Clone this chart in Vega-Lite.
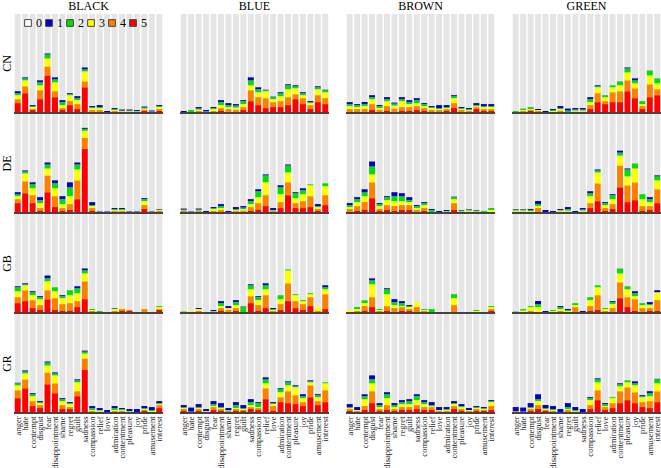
{
"$schema": "https://vega.github.io/schema/vega-lite/v6.json",
"padding": {"left": 0, "top": 0, "right": 0, "bottom": 0},
"background": "white",
"config": {"view": {"stroke": null}, "font": "Liberation Serif"},
"data": {"values": [
{"c":"BLACK","r":"CN","e":"anger","5":10,"4":4,"3":4,"2":2,"1":2},
{"c":"BLACK","r":"CN","e":"hate","5":20,"4":7,"3":6,"2":2,"1":1},
{"c":"BLACK","r":"CN","e":"contempt","5":3,"4":1,"3":2,"2":1,"1":1},
{"c":"BLACK","r":"CN","e":"disgust","5":14,"4":9,"3":5,"2":3,"1":2},
{"c":"BLACK","r":"CN","e":"fear","5":38,"4":9,"3":8,"2":4,"1":1},
{"c":"BLACK","r":"CN","e":"disappointment","5":16,"4":6,"3":9,"2":3,"1":2},
{"c":"BLACK","r":"CN","e":"shame","5":3,"4":2,"3":3,"2":3,"1":2},
{"c":"BLACK","r":"CN","e":"regret","5":8,"4":4,"3":6,"2":1,"1":1},
{"c":"BLACK","r":"CN","e":"guilt","5":4,"4":5,"3":4,"2":2,"1":2},
{"c":"BLACK","r":"CN","e":"sadness","5":26,"4":6,"3":10,"2":2,"1":2},
{"c":"BLACK","r":"CN","e":"compassion","5":1,"4":2,"3":2,"2":1,"1":1},
{"c":"BLACK","r":"CN","e":"relief","5":1,"4":2,"3":2,"2":1,"1":2},
{"c":"BLACK","r":"CN","e":"love","5":0.5,"4":0.5,"3":0,"2":0,"1":1},
{"c":"BLACK","r":"CN","e":"admiration","5":1,"4":1,"3":1,"2":1,"1":1},
{"c":"BLACK","r":"CN","e":"contentment","5":0.5,"4":1,"3":0.5,"2":0.5,"1":1},
{"c":"BLACK","r":"CN","e":"pleasure","5":0.5,"4":1,"3":0.5,"2":0.5,"1":1},
{"c":"BLACK","r":"CN","e":"joy","5":0.5,"4":0.5,"3":0.5,"2":0.5,"1":1},
{"c":"BLACK","r":"CN","e":"pride","5":2,"4":1.5,"3":1,"2":1,"1":1},
{"c":"BLACK","r":"CN","e":"amusement","5":0.5,"4":0.5,"3":0.5,"2":0,"1":1},
{"c":"BLACK","r":"CN","e":"interest","5":2,"4":2,"3":2,"2":1,"1":1},
{"c":"BLUE","r":"CN","e":"anger","5":0,"4":0,"3":0,"2":1,"1":1},
{"c":"BLUE","r":"CN","e":"hate","5":0,"4":0,"3":1,"2":2,"1":0},
{"c":"BLUE","r":"CN","e":"contempt","5":1,"4":1,"3":1.5,"2":1,"1":1.5},
{"c":"BLUE","r":"CN","e":"disgust","5":0,"4":1,"3":0.5,"2":0,"1":1.5},
{"c":"BLUE","r":"CN","e":"fear","5":1,"4":1,"3":2,"2":1,"1":1},
{"c":"BLUE","r":"CN","e":"disappointment","5":2,"4":3,"3":3,"2":3,"1":2},
{"c":"BLUE","r":"CN","e":"shame","5":1.5,"4":2.5,"3":2,"2":2,"1":2},
{"c":"BLUE","r":"CN","e":"regret","5":1.5,"4":2,"3":2,"2":2,"1":1.5},
{"c":"BLUE","r":"CN","e":"guilt","5":3,"4":3,"3":3,"2":3,"1":1},
{"c":"BLUE","r":"CN","e":"sadness","5":12,"4":11,"3":5,"2":5,"1":3},
{"c":"BLUE","r":"CN","e":"compassion","5":8,"4":8,"3":5,"2":3,"1":2},
{"c":"BLUE","r":"CN","e":"relief","5":5,"4":10,"3":7,"2":1,"1":0.5},
{"c":"BLUE","r":"CN","e":"love","5":6,"4":5,"3":3,"2":2,"1":0.5},
{"c":"BLUE","r":"CN","e":"admiration","5":6,"4":6,"3":5,"2":3,"1":1},
{"c":"BLUE","r":"CN","e":"contentment","5":8,"4":8,"3":8,"2":4,"1":1},
{"c":"BLUE","r":"CN","e":"pleasure","5":14,"4":5,"3":6,"2":2,"1":1},
{"c":"BLUE","r":"CN","e":"joy","5":9,"4":6,"3":3,"2":2,"1":1},
{"c":"BLUE","r":"CN","e":"pride","5":4,"4":4,"3":2,"2":1,"1":1},
{"c":"BLUE","r":"CN","e":"amusement","5":11,"4":7,"3":6,"2":2,"1":1},
{"c":"BLUE","r":"CN","e":"interest","5":9,"4":6,"3":6,"2":2,"1":0.5},
{"c":"BROWN","r":"CN","e":"anger","5":1,"4":3,"3":3,"2":2,"1":2},
{"c":"BROWN","r":"CN","e":"hate","5":1,"4":3,"3":2,"2":2,"1":1},
{"c":"BROWN","r":"CN","e":"contempt","5":1,"4":3,"3":3,"2":2,"1":2},
{"c":"BROWN","r":"CN","e":"disgust","5":3,"4":6,"3":5,"2":2,"1":2},
{"c":"BROWN","r":"CN","e":"fear","5":1,"4":2,"3":2,"2":2,"1":1},
{"c":"BROWN","r":"CN","e":"disappointment","5":2,"4":5,"3":5,"2":2,"1":2},
{"c":"BROWN","r":"CN","e":"shame","5":1.5,"4":3,"3":3,"2":2,"1":1},
{"c":"BROWN","r":"CN","e":"regret","5":2,"4":4,"3":6,"2":2,"1":2},
{"c":"BROWN","r":"CN","e":"guilt","5":2,"4":4,"3":3,"2":2,"1":2},
{"c":"BROWN","r":"CN","e":"sadness","5":3,"4":4,"3":3,"2":3,"1":2},
{"c":"BROWN","r":"CN","e":"compassion","5":2,"4":3,"3":2,"2":2,"1":1},
{"c":"BROWN","r":"CN","e":"relief","5":1,"4":2,"3":2,"2":1,"1":1},
{"c":"BROWN","r":"CN","e":"love","5":1,"4":2,"3":1,"2":1,"1":3},
{"c":"BROWN","r":"CN","e":"admiration","5":2,"4":2,"3":1,"2":1,"1":2},
{"c":"BROWN","r":"CN","e":"contentment","5":5,"4":5,"3":5,"2":2,"1":1},
{"c":"BROWN","r":"CN","e":"pleasure","5":1,"4":2,"3":1,"2":1,"1":1},
{"c":"BROWN","r":"CN","e":"joy","5":1,"4":1,"3":1,"2":1,"1":1},
{"c":"BROWN","r":"CN","e":"pride","5":4,"4":2,"3":1,"2":1,"1":2},
{"c":"BROWN","r":"CN","e":"amusement","5":2,"4":2,"3":2,"2":1,"1":2},
{"c":"BROWN","r":"CN","e":"interest","5":2,"4":2,"3":2,"2":1,"1":2},
{"c":"GREEN","r":"CN","e":"anger","5":0,"4":0,"3":0,"2":2,"1":0},
{"c":"GREEN","r":"CN","e":"hate","5":1,"4":1,"3":1,"2":1.5,"1":0},
{"c":"GREEN","r":"CN","e":"contempt","5":2,"4":1,"3":1,"2":2,"1":0},
{"c":"GREEN","r":"CN","e":"disgust","5":0,"4":2,"3":1,"2":0,"1":1},
{"c":"GREEN","r":"CN","e":"fear","5":0,"4":0,"3":0.5,"2":0.5,"1":1},
{"c":"GREEN","r":"CN","e":"disappointment","5":0,"4":1,"3":1,"2":1,"1":1},
{"c":"GREEN","r":"CN","e":"shame","5":1,"4":1.5,"3":1.5,"2":1,"1":2},
{"c":"GREEN","r":"CN","e":"regret","5":0,"4":0.5,"3":0.5,"2":1.5,"1":2},
{"c":"GREEN","r":"CN","e":"guilt","5":0.5,"4":1,"3":1,"2":1,"1":1.5},
{"c":"GREEN","r":"CN","e":"sadness","5":0.5,"4":1,"3":1,"2":1,"1":1.5},
{"c":"GREEN","r":"CN","e":"compassion","5":4,"4":4,"3":3,"2":3,"1":2},
{"c":"GREEN","r":"CN","e":"relief","5":11,"4":9,"3":6,"2":1,"1":1},
{"c":"GREEN","r":"CN","e":"love","5":9,"4":3,"3":4,"2":2,"1":0},
{"c":"GREEN","r":"CN","e":"admiration","5":11,"4":10,"3":5,"2":2,"1":0},
{"c":"GREEN","r":"CN","e":"contentment","5":11,"4":11,"3":6,"2":4,"1":0},
{"c":"GREEN","r":"CN","e":"pleasure","5":22,"4":11,"3":8,"2":4,"1":1},
{"c":"GREEN","r":"CN","e":"joy","5":15,"4":10,"3":5,"2":3,"1":2},
{"c":"GREEN","r":"CN","e":"pride","5":4,"4":3,"3":2,"2":3,"1":0},
{"c":"GREEN","r":"CN","e":"amusement","5":16,"4":13,"3":9,"2":5,"1":0},
{"c":"GREEN","r":"CN","e":"interest","5":18,"4":6,"3":6,"2":5,"1":0},
{"c":"BLACK","r":"DE","e":"anger","5":10,"4":4,"3":3,"2":2,"1":2},
{"c":"BLACK","r":"DE","e":"hate","5":20,"4":12,"3":8,"2":2,"1":1},
{"c":"BLACK","r":"DE","e":"contempt","5":10,"4":8,"3":7,"2":4,"1":2},
{"c":"BLACK","r":"DE","e":"disgust","5":2,"4":3,"3":5,"2":3,"1":3},
{"c":"BLACK","r":"DE","e":"fear","5":21,"4":17,"3":7,"2":4,"1":2},
{"c":"BLACK","r":"DE","e":"disappointment","5":6,"4":11,"3":8,"2":5,"1":3},
{"c":"BLACK","r":"DE","e":"shame","5":2,"4":3,"3":4,"2":5,"1":3},
{"c":"BLACK","r":"DE","e":"regret","5":3,"4":6,"3":8,"2":9,"1":5},
{"c":"BLACK","r":"DE","e":"guilt","5":14,"4":19,"3":11,"2":5,"1":2},
{"c":"BLACK","r":"DE","e":"sadness","5":65,"4":11,"3":7,"2":2,"1":1},
{"c":"BLACK","r":"DE","e":"compassion","5":2,"4":3,"3":2,"2":1,"1":3},
{"c":"BLACK","r":"DE","e":"relief","5":0,"4":0.5,"3":0.5,"2":0,"1":0.5},
{"c":"BLACK","r":"DE","e":"love","5":0,"4":0,"3":0,"2":0,"1":1.5},
{"c":"BLACK","r":"DE","e":"admiration","5":1,"4":1,"3":1,"2":1,"1":1},
{"c":"BLACK","r":"DE","e":"contentment","5":1,"4":1,"3":1,"2":1,"1":1},
{"c":"BLACK","r":"DE","e":"pleasure","5":0.5,"4":0.5,"3":0.5,"2":0,"1":0.5},
{"c":"BLACK","r":"DE","e":"joy","5":0.5,"4":0.5,"3":0.5,"2":0,"1":0.5},
{"c":"BLACK","r":"DE","e":"pride","5":4,"4":4,"3":4,"2":2,"1":1},
{"c":"BLACK","r":"DE","e":"amusement","5":0.5,"4":0.5,"3":0.5,"2":0,"1":0.5},
{"c":"BLACK","r":"DE","e":"interest","5":1,"4":1,"3":1,"2":0.5,"1":0.5},
{"c":"BLUE","r":"DE","e":"anger","5":1,"4":1,"3":0.5,"2":1,"1":1},
{"c":"BLUE","r":"DE","e":"hate","5":0,"4":0,"3":0,"2":0.5,"1":1},
{"c":"BLUE","r":"DE","e":"contempt","5":1,"4":1,"3":0.5,"2":1,"1":1},
{"c":"BLUE","r":"DE","e":"disgust","5":0.5,"4":0,"3":0,"2":0.5,"1":1},
{"c":"BLUE","r":"DE","e":"fear","5":1,"4":1,"3":2,"2":1,"1":1},
{"c":"BLUE","r":"DE","e":"disappointment","5":1,"4":2,"3":2,"2":2,"1":2},
{"c":"BLUE","r":"DE","e":"shame","5":0.5,"4":0.5,"3":0,"2":0,"1":1},
{"c":"BLUE","r":"DE","e":"regret","5":1,"4":1,"3":1,"2":1,"1":2},
{"c":"BLUE","r":"DE","e":"guilt","5":1,"4":1.5,"3":1.5,"2":1.5,"1":1.5},
{"c":"BLUE","r":"DE","e":"sadness","5":2,"4":4,"3":3,"2":3,"1":2},
{"c":"BLUE","r":"DE","e":"compassion","5":3,"4":7,"3":6,"2":6,"1":2},
{"c":"BLUE","r":"DE","e":"relief","5":7,"4":11,"3":13,"2":7,"1":1},
{"c":"BLUE","r":"DE","e":"love","5":1,"4":1,"3":0.5,"2":0.5,"1":2},
{"c":"BLUE","r":"DE","e":"admiration","5":5,"4":6,"3":8,"2":7,"1":2},
{"c":"BLUE","r":"DE","e":"contentment","5":18,"4":13,"3":10,"2":7,"1":1},
{"c":"BLUE","r":"DE","e":"pleasure","5":5,"4":5,"3":5,"2":5,"1":1},
{"c":"BLUE","r":"DE","e":"joy","5":5,"4":7,"3":7,"2":4,"1":2},
{"c":"BLUE","r":"DE","e":"pride","5":6,"4":11,"3":11,"2":1,"1":0},
{"c":"BLUE","r":"DE","e":"amusement","5":2,"4":2,"3":2,"2":1,"1":2},
{"c":"BLUE","r":"DE","e":"interest","5":8,"4":10,"3":9,"2":3,"1":0},
{"c":"BROWN","r":"DE","e":"anger","5":1,"4":3,"3":2,"2":2,"1":2},
{"c":"BROWN","r":"DE","e":"hate","5":2,"4":5,"3":4,"2":3,"1":2},
{"c":"BROWN","r":"DE","e":"contempt","5":3,"4":8,"3":6,"2":4,"1":3},
{"c":"BROWN","r":"DE","e":"disgust","5":15,"4":16,"3":8,"2":8,"1":5},
{"c":"BROWN","r":"DE","e":"fear","5":2,"4":2,"3":3,"2":2,"1":1},
{"c":"BROWN","r":"DE","e":"disappointment","5":3,"4":5,"3":5,"2":3,"1":1},
{"c":"BROWN","r":"DE","e":"shame","5":2,"4":5,"3":5,"2":5,"1":4},
{"c":"BROWN","r":"DE","e":"regret","5":3,"4":5,"3":4,"2":5,"1":3},
{"c":"BROWN","r":"DE","e":"guilt","5":3,"4":5,"3":3,"2":2,"1":3},
{"c":"BROWN","r":"DE","e":"sadness","5":1,"4":2,"3":2,"2":2,"1":1},
{"c":"BROWN","r":"DE","e":"compassion","5":2,"4":3,"3":3,"2":2,"1":1},
{"c":"BROWN","r":"DE","e":"relief","5":0,"4":0.5,"3":0.5,"2":2,"1":1},
{"c":"BROWN","r":"DE","e":"love","5":0,"4":0.5,"3":0,"2":0.5,"1":1},
{"c":"BROWN","r":"DE","e":"admiration","5":0.5,"4":0.5,"3":0.5,"2":0.5,"1":1},
{"c":"BROWN","r":"DE","e":"contentment","5":3,"4":7,"3":4,"2":2,"1":0.5},
{"c":"BROWN","r":"DE","e":"pleasure","5":0.5,"4":0.5,"3":0.5,"2":1,"1":0.5},
{"c":"BROWN","r":"DE","e":"joy","5":0.5,"4":1,"3":1,"2":1,"1":0.5},
{"c":"BROWN","r":"DE","e":"pride","5":0.5,"4":0.5,"3":0.5,"2":1,"1":0.5},
{"c":"BROWN","r":"DE","e":"amusement","5":0,"4":0.5,"3":0.5,"2":1,"1":0},
{"c":"BROWN","r":"DE","e":"interest","5":0,"4":0,"3":3,"2":2,"1":0},
{"c":"GREEN","r":"DE","e":"anger","5":0.5,"4":1,"3":1,"2":1,"1":0.5},
{"c":"GREEN","r":"DE","e":"hate","5":0.5,"4":1,"3":1,"2":1,"1":0.5},
{"c":"GREEN","r":"DE","e":"contempt","5":0.5,"4":1,"3":0.5,"2":1,"1":1},
{"c":"GREEN","r":"DE","e":"disgust","5":1,"4":4,"3":2,"2":2,"1":3},
{"c":"GREEN","r":"DE","e":"fear","5":0,"4":0,"3":0,"2":0.5,"1":2.5},
{"c":"GREEN","r":"DE","e":"disappointment","5":0,"4":0,"3":0,"2":0,"1":2},
{"c":"GREEN","r":"DE","e":"shame","5":0.5,"4":1,"3":1,"2":0.5,"1":1},
{"c":"GREEN","r":"DE","e":"regret","5":0.5,"4":1,"3":1,"2":1.5,"1":2},
{"c":"GREEN","r":"DE","e":"guilt","5":0,"4":0,"3":0,"2":0,"1":2},
{"c":"GREEN","r":"DE","e":"sadness","5":0.5,"4":1,"3":1,"2":1,"1":1.5},
{"c":"GREEN","r":"DE","e":"compassion","5":5,"4":5,"3":7,"2":3,"1":2},
{"c":"GREEN","r":"DE","e":"relief","5":12,"4":18,"3":11,"2":2,"1":1},
{"c":"GREEN","r":"DE","e":"love","5":2,"4":3,"3":3,"2":2,"1":1},
{"c":"GREEN","r":"DE","e":"admiration","5":4,"4":5,"3":5,"2":4,"1":1},
{"c":"GREEN","r":"DE","e":"contentment","5":26,"4":22,"3":10,"2":3,"1":2},
{"c":"GREEN","r":"DE","e":"pleasure","5":11,"4":17,"3":9,"2":7,"1":1},
{"c":"GREEN","r":"DE","e":"joy","5":13,"4":18,"3":14,"2":5,"1":0},
{"c":"GREEN","r":"DE","e":"pride","5":2,"4":5,"3":7,"2":5,"1":0},
{"c":"GREEN","r":"DE","e":"amusement","5":3,"4":4,"3":4,"2":3,"1":2},
{"c":"GREEN","r":"DE","e":"interest","5":10,"4":14,"3":9,"2":4,"1":1},
{"c":"BLACK","r":"GB","e":"anger","5":10,"4":6,"3":6,"2":4,"1":1},
{"c":"BLACK","r":"GB","e":"hate","5":12,"4":11,"3":5,"2":1,"1":1},
{"c":"BLACK","r":"GB","e":"contempt","5":5,"4":8,"3":5,"2":3,"1":1},
{"c":"BLACK","r":"GB","e":"disgust","5":3,"4":5,"3":6,"2":2,"1":1},
{"c":"BLACK","r":"GB","e":"fear","5":14,"4":9,"3":9,"2":3,"1":3},
{"c":"BLACK","r":"GB","e":"disappointment","5":3,"4":12,"3":7,"2":4,"1":0},
{"c":"BLACK","r":"GB","e":"shame","5":2,"4":7,"3":6,"2":2,"1":1},
{"c":"BLACK","r":"GB","e":"regret","5":2,"4":8,"3":8,"2":5,"1":0},
{"c":"BLACK","r":"GB","e":"guilt","5":6,"4":6,"3":8,"2":5,"1":2},
{"c":"BLACK","r":"GB","e":"sadness","5":14,"4":18,"3":8,"2":3,"1":2},
{"c":"BLACK","r":"GB","e":"compassion","5":1,"4":1,"3":1,"2":1,"1":0},
{"c":"BLACK","r":"GB","e":"relief","5":0.5,"4":0.5,"3":0,"2":1,"1":0},
{"c":"BLACK","r":"GB","e":"love","5":0.5,"4":0.5,"3":0,"2":0,"1":0},
{"c":"BLACK","r":"GB","e":"admiration","5":1,"4":1,"3":2,"2":0.5,"1":0.5},
{"c":"BLACK","r":"GB","e":"contentment","5":2,"4":2,"3":1,"2":0,"1":0},
{"c":"BLACK","r":"GB","e":"pleasure","5":2,"4":1,"3":0,"2":0,"1":0},
{"c":"BLACK","r":"GB","e":"joy","5":0,"4":0,"3":0,"2":0,"1":0},
{"c":"BLACK","r":"GB","e":"pride","5":0,"4":4,"3":0.5,"2":0,"1":0},
{"c":"BLACK","r":"GB","e":"amusement","5":0,"4":0,"3":0,"2":0,"1":0},
{"c":"BLACK","r":"GB","e":"interest","5":3,"4":1,"3":2,"2":1,"1":0},
{"c":"BLUE","r":"GB","e":"anger","5":0,"4":0.5,"3":1,"2":0.5,"1":0},
{"c":"BLUE","r":"GB","e":"hate","5":0,"4":1,"3":1,"2":0,"1":0},
{"c":"BLUE","r":"GB","e":"contempt","5":0,"4":2,"3":2,"2":0,"1":1},
{"c":"BLUE","r":"GB","e":"disgust","5":0,"4":0,"3":0,"2":0,"1":0.5},
{"c":"BLUE","r":"GB","e":"fear","5":0,"4":1,"3":0.5,"2":0.5,"1":1},
{"c":"BLUE","r":"GB","e":"disappointment","5":2,"4":3,"3":2,"2":3,"1":2},
{"c":"BLUE","r":"GB","e":"shame","5":1,"4":2,"3":2,"2":0,"1":2},
{"c":"BLUE","r":"GB","e":"regret","5":2,"4":3,"3":3,"2":3,"1":2},
{"c":"BLUE","r":"GB","e":"guilt","5":1,"4":0,"3":0,"2":5,"1":0.5},
{"c":"BLUE","r":"GB","e":"sadness","5":10,"4":7,"3":7,"2":4,"1":1},
{"c":"BLUE","r":"GB","e":"compassion","5":2,"4":6,"3":5,"2":3,"1":1},
{"c":"BLUE","r":"GB","e":"relief","5":5,"4":13,"3":6,"2":4,"1":2},
{"c":"BLUE","r":"GB","e":"love","5":1,"4":1,"3":1,"2":1,"1":1},
{"c":"BLUE","r":"GB","e":"admiration","5":3,"4":6,"3":5,"2":4,"1":0},
{"c":"BLUE","r":"GB","e":"contentment","5":12,"4":18,"3":13,"2":1,"1":0},
{"c":"BLUE","r":"GB","e":"pleasure","5":5,"4":7,"3":6,"2":1,"1":0},
{"c":"BLUE","r":"GB","e":"joy","5":3,"4":6,"3":3,"2":1,"1":0},
{"c":"BLUE","r":"GB","e":"pride","5":7,"4":9,"3":3,"2":1,"1":0},
{"c":"BLUE","r":"GB","e":"amusement","5":1,"4":1,"3":4,"2":0,"1":0},
{"c":"BLUE","r":"GB","e":"interest","5":4,"4":15,"3":5,"2":2,"1":2},
{"c":"BROWN","r":"GB","e":"anger","5":0,"4":1,"3":2,"2":0,"1":0},
{"c":"BROWN","r":"GB","e":"hate","5":0,"4":2,"3":2,"2":2,"1":0},
{"c":"BROWN","r":"GB","e":"contempt","5":2,"4":5,"3":3,"2":3,"1":0},
{"c":"BROWN","r":"GB","e":"disgust","5":6,"4":10,"3":13,"2":4,"1":2},
{"c":"BROWN","r":"GB","e":"fear","5":1,"4":1,"3":1,"2":1,"1":0},
{"c":"BROWN","r":"GB","e":"disappointment","5":2,"4":5,"3":12,"2":5,"1":1},
{"c":"BROWN","r":"GB","e":"shame","5":1,"4":4,"3":3,"2":3,"1":3},
{"c":"BROWN","r":"GB","e":"regret","5":2,"4":4,"3":1,"2":3,"1":2},
{"c":"BROWN","r":"GB","e":"guilt","5":2,"4":2,"3":2,"2":1,"1":1},
{"c":"BROWN","r":"GB","e":"sadness","5":1,"4":5,"3":5,"2":0,"1":0},
{"c":"BROWN","r":"GB","e":"compassion","5":1,"4":1,"3":1,"2":1,"1":0},
{"c":"BROWN","r":"GB","e":"relief","5":0,"4":0,"3":1,"2":3,"1":0},
{"c":"BROWN","r":"GB","e":"love","5":0.5,"4":0,"3":0,"2":0,"1":0.5},
{"c":"BROWN","r":"GB","e":"admiration","5":0,"4":0,"3":0,"2":0,"1":1},
{"c":"BROWN","r":"GB","e":"contentment","5":1,"4":7,"3":7,"2":4,"1":0},
{"c":"BROWN","r":"GB","e":"pleasure","5":0,"4":0.5,"3":0,"2":0,"1":0},
{"c":"BROWN","r":"GB","e":"joy","5":0,"4":0.5,"3":0,"2":0,"1":0},
{"c":"BROWN","r":"GB","e":"pride","5":0,"4":1,"3":1,"2":1,"1":0},
{"c":"BROWN","r":"GB","e":"amusement","5":0.5,"4":0,"3":0,"2":0,"1":0},
{"c":"BROWN","r":"GB","e":"interest","5":2,"4":2,"3":2,"2":1,"1":0},
{"c":"GREEN","r":"GB","e":"anger","5":0,"4":0,"3":0,"2":1.5,"1":0},
{"c":"GREEN","r":"GB","e":"hate","5":0,"4":1,"3":1.5,"2":1.5,"1":0},
{"c":"GREEN","r":"GB","e":"contempt","5":0,"4":2,"3":4,"2":1,"1":0},
{"c":"GREEN","r":"GB","e":"disgust","5":0,"4":1,"3":5,"2":3,"1":3},
{"c":"GREEN","r":"GB","e":"fear","5":0,"4":0,"3":0,"2":0,"1":2},
{"c":"GREEN","r":"GB","e":"disappointment","5":0,"4":1,"3":1,"2":1,"1":0},
{"c":"GREEN","r":"GB","e":"shame","5":0,"4":2,"3":2,"2":2,"1":1},
{"c":"GREEN","r":"GB","e":"regret","5":0,"4":1,"3":1,"2":1,"1":1},
{"c":"GREEN","r":"GB","e":"guilt","5":0,"4":6,"3":2,"2":2,"1":0},
{"c":"GREEN","r":"GB","e":"sadness","5":0,"4":1,"3":0,"2":0,"1":1},
{"c":"GREEN","r":"GB","e":"compassion","5":2,"4":5,"3":6,"2":3,"1":0},
{"c":"GREEN","r":"GB","e":"relief","5":3,"4":15,"3":8,"2":2,"1":0},
{"c":"GREEN","r":"GB","e":"love","5":0,"4":2,"3":2,"2":1,"1":0},
{"c":"GREEN","r":"GB","e":"admiration","5":1,"4":4,"3":4,"2":2,"1":1},
{"c":"GREEN","r":"GB","e":"contentment","5":15,"4":16,"3":9,"2":5,"1":0},
{"c":"GREEN","r":"GB","e":"pleasure","5":6,"4":10,"3":8,"2":3,"1":0},
{"c":"GREEN","r":"GB","e":"joy","5":2,"4":12,"3":3,"2":3,"1":2},
{"c":"GREEN","r":"GB","e":"pride","5":1,"4":4,"3":3,"2":2,"1":0},
{"c":"GREEN","r":"GB","e":"amusement","5":2,"4":3,"3":3,"2":1,"1":2},
{"c":"GREEN","r":"GB","e":"interest","5":2,"4":11,"3":8,"2":0,"1":2},
{"c":"BLACK","r":"GR","e":"anger","5":15,"4":8,"3":5,"2":2,"1":0.5},
{"c":"BLACK","r":"GR","e":"hate","5":25,"4":9,"3":6,"2":2,"1":1},
{"c":"BLACK","r":"GR","e":"contempt","5":7,"4":5,"3":5,"2":2,"1":1},
{"c":"BLACK","r":"GR","e":"disgust","5":5,"4":3,"3":2,"2":1,"1":1},
{"c":"BLACK","r":"GR","e":"fear","5":29,"4":12,"3":7,"2":3,"1":1},
{"c":"BLACK","r":"GR","e":"disappointment","5":20,"4":10,"3":8,"2":2,"1":1},
{"c":"BLACK","r":"GR","e":"shame","5":4,"4":4,"3":4,"2":2,"1":1},
{"c":"BLACK","r":"GR","e":"regret","5":4,"4":2,"3":3,"2":1,"1":1},
{"c":"BLACK","r":"GR","e":"guilt","5":17,"4":5,"3":9,"2":2,"1":1},
{"c":"BLACK","r":"GR","e":"sadness","5":44,"4":11,"3":5,"2":2,"1":1},
{"c":"BLACK","r":"GR","e":"compassion","5":1,"4":1,"3":1,"2":2,"1":2},
{"c":"BLACK","r":"GR","e":"relief","5":0.5,"4":1,"3":1,"2":0.5,"1":2},
{"c":"BLACK","r":"GR","e":"love","5":0,"4":0,"3":0.5,"2":0.5,"1":2},
{"c":"BLACK","r":"GR","e":"admiration","5":1,"4":1,"3":1,"2":2,"1":2},
{"c":"BLACK","r":"GR","e":"contentment","5":1,"4":1,"3":1,"2":1,"1":1},
{"c":"BLACK","r":"GR","e":"pleasure","5":0.5,"4":0.5,"3":0.5,"2":0.5,"1":2},
{"c":"BLACK","r":"GR","e":"joy","5":0,"4":0,"3":0.5,"2":0.5,"1":3},
{"c":"BLACK","r":"GR","e":"pride","5":2,"4":1,"3":1,"2":1,"1":2},
{"c":"BLACK","r":"GR","e":"amusement","5":0.5,"4":0.5,"3":1,"2":1,"1":3},
{"c":"BLACK","r":"GR","e":"interest","5":5,"4":3,"3":1,"2":1,"1":2},
{"c":"BLUE","r":"GR","e":"anger","5":2,"4":2,"3":1,"2":1,"1":2},
{"c":"BLUE","r":"GR","e":"hate","5":1,"4":0,"3":0,"2":0.5,"1":4},
{"c":"BLUE","r":"GR","e":"contempt","5":2,"4":2,"3":1,"2":1,"1":3},
{"c":"BLUE","r":"GR","e":"disgust","5":1,"4":0.5,"3":0.5,"2":0,"1":2},
{"c":"BLUE","r":"GR","e":"fear","5":3,"4":3,"3":1,"2":2,"1":3},
{"c":"BLUE","r":"GR","e":"disappointment","5":2,"4":2,"3":1,"2":1,"1":4},
{"c":"BLUE","r":"GR","e":"shame","5":1,"4":1,"3":0.5,"2":0.5,"1":2},
{"c":"BLUE","r":"GR","e":"regret","5":2,"4":2,"3":1,"2":3,"1":3},
{"c":"BLUE","r":"GR","e":"guilt","5":2,"4":1,"3":1,"2":1,"1":3},
{"c":"BLUE","r":"GR","e":"sadness","5":4,"4":2,"3":2,"2":3,"1":3},
{"c":"BLUE","r":"GR","e":"compassion","5":3,"4":2,"3":1,"2":4,"1":1},
{"c":"BLUE","r":"GR","e":"relief","5":14,"4":11,"3":5,"2":4,"1":2},
{"c":"BLUE","r":"GR","e":"love","5":2,"4":5,"3":2,"2":1,"1":1},
{"c":"BLUE","r":"GR","e":"admiration","5":11,"4":5,"3":5,"2":3,"1":1},
{"c":"BLUE","r":"GR","e":"contentment","5":10,"4":12,"3":6,"2":3,"1":1},
{"c":"BLUE","r":"GR","e":"pleasure","5":9,"4":9,"3":8,"2":1,"1":1},
{"c":"BLUE","r":"GR","e":"joy","5":7,"4":4,"3":4,"2":2,"1":2},
{"c":"BLUE","r":"GR","e":"pride","5":16,"4":12,"3":3,"2":1,"1":1},
{"c":"BLUE","r":"GR","e":"amusement","5":8,"4":4,"3":4,"2":2,"1":1},
{"c":"BLUE","r":"GR","e":"interest","5":11,"4":12,"3":7,"2":1,"1":0},
{"c":"BROWN","r":"GR","e":"anger","5":2,"4":2,"3":1,"2":1,"1":3},
{"c":"BROWN","r":"GR","e":"hate","5":1,"4":1,"3":1,"2":0,"1":3},
{"c":"BROWN","r":"GR","e":"contempt","5":3,"4":4,"3":7,"2":3,"1":2},
{"c":"BROWN","r":"GR","e":"disgust","5":10,"4":12,"3":8,"2":4,"1":4},
{"c":"BROWN","r":"GR","e":"fear","5":2,"4":2,"3":2,"2":2,"1":2},
{"c":"BROWN","r":"GR","e":"disappointment","5":3,"4":5,"3":7,"2":4,"1":2},
{"c":"BROWN","r":"GR","e":"shame","5":2,"4":2,"3":2,"2":2,"1":2},
{"c":"BROWN","r":"GR","e":"regret","5":3,"4":3,"3":3,"2":2,"1":2},
{"c":"BROWN","r":"GR","e":"guilt","5":3,"4":3,"3":3,"2":3,"1":2},
{"c":"BROWN","r":"GR","e":"sadness","5":4,"4":4,"3":5,"2":4,"1":2},
{"c":"BROWN","r":"GR","e":"compassion","5":3,"4":3,"3":3,"2":2,"1":2},
{"c":"BROWN","r":"GR","e":"relief","5":3,"4":3,"3":1,"2":1,"1":3},
{"c":"BROWN","r":"GR","e":"love","5":1,"4":1,"3":1,"2":0,"1":3},
{"c":"BROWN","r":"GR","e":"admiration","5":1,"4":1,"3":1,"2":1,"1":2},
{"c":"BROWN","r":"GR","e":"contentment","5":4,"4":3,"3":2,"2":1,"1":2},
{"c":"BROWN","r":"GR","e":"pleasure","5":2,"4":2,"3":2,"2":1,"1":2},
{"c":"BROWN","r":"GR","e":"joy","5":1,"4":1,"3":1,"2":0,"1":2},
{"c":"BROWN","r":"GR","e":"pride","5":2,"4":2,"3":1,"2":1,"1":1},
{"c":"BROWN","r":"GR","e":"amusement","5":2,"4":1,"3":1,"2":1,"1":1},
{"c":"BROWN","r":"GR","e":"interest","5":3,"4":4,"3":4,"2":1,"1":1},
{"c":"GREEN","r":"GR","e":"anger","5":1,"4":1,"3":0,"2":0,"1":4},
{"c":"GREEN","r":"GR","e":"hate","5":1,"4":0,"3":0,"2":0.5,"1":4},
{"c":"GREEN","r":"GR","e":"contempt","5":2,"4":2,"3":1,"2":1,"1":4},
{"c":"GREEN","r":"GR","e":"disgust","5":4,"4":4,"3":4,"2":2,"1":5},
{"c":"GREEN","r":"GR","e":"fear","5":2,"4":1,"3":1,"2":1,"1":3},
{"c":"GREEN","r":"GR","e":"disappointment","5":1,"4":1,"3":1,"2":1,"1":3},
{"c":"GREEN","r":"GR","e":"shame","5":0.5,"4":0,"3":0,"2":0.5,"1":3},
{"c":"GREEN","r":"GR","e":"regret","5":1,"4":2,"3":1,"2":2,"1":4},
{"c":"GREEN","r":"GR","e":"guilt","5":1,"4":0.5,"3":0.5,"2":1,"1":3},
{"c":"GREEN","r":"GR","e":"sadness","5":0.5,"4":0,"3":0,"2":0.5,"1":3},
{"c":"GREEN","r":"GR","e":"compassion","5":4,"4":4,"3":5,"2":2,"1":1},
{"c":"GREEN","r":"GR","e":"relief","5":13,"4":10,"3":8,"2":3,"1":1},
{"c":"GREEN","r":"GR","e":"love","5":3,"4":3,"3":1,"2":2,"1":1},
{"c":"GREEN","r":"GR","e":"admiration","5":5,"4":5,"3":5,"2":1,"1":0},
{"c":"GREEN","r":"GR","e":"contentment","5":10,"4":12,"3":5,"2":2,"1":1},
{"c":"GREEN","r":"GR","e":"pleasure","5":13,"4":13,"3":5,"2":2,"1":0},
{"c":"GREEN","r":"GR","e":"joy","5":10,"4":11,"3":7,"2":2,"1":2},
{"c":"GREEN","r":"GR","e":"pride","5":6,"4":5,"3":5,"2":1,"1":1},
{"c":"GREEN","r":"GR","e":"amusement","5":5,"4":7,"3":5,"2":3,"1":2},
{"c":"GREEN","r":"GR","e":"interest","5":11,"4":11,"3":8,"2":4,"1":0.5}
]},
"facet": {
  "column": {"field": "c", "type": "nominal", "header": {"title": null, "labelFont": "Liberation Serif", "labelFontSize": 12, "labelColor": "#000", "labelPadding": 1}},
  "row": {"field": "r", "type": "nominal", "header": {"title": null, "labelAngle": -90, "labelOrient": "left", "labelFont": "Liberation Serif", "labelFontSize": 12, "labelColor": "#000", "labelPadding": -6}}
},
"spacing": {"column": 15, "row": 0},
"spec": {
  "width": 149,
  "height": 99,
  "layer": [
    {"mark": {"type": "bar", "color": "#e5e5e5"},
     "encoding": {
       "x": {"field": "e", "type": "nominal", "sort": ["anger","hate","contempt","disgust","fear","disappointment","shame","regret","guilt","sadness","compassion","relief","love","admiration","contentment","pleasure","joy","pride","amusement","interest"], "scale": {"paddingInner": 0.2, "paddingOuter": 0.1}, "axis": {"title": null, "labelAngle": -90, "labelFont": "Liberation Serif", "labelFontSize": 8.5, "labelColor": "#222", "ticks": false, "domain": false, "labelPadding": 2}},
       "y": {"datum": 100, "type": "quantitative", "scale": {"domain": [0, 100]}, "axis": null}
     }},
    {"transform": [{"fold": ["5", "4", "3", "2", "1"], "as": ["level", "v"]}],
     "mark": {"type": "bar"},
     "encoding": {
       "x": {"field": "e", "type": "nominal", "sort": ["anger","hate","contempt","disgust","fear","disappointment","shame","regret","guilt","sadness","compassion","relief","love","admiration","contentment","pleasure","joy","pride","amusement","interest"], "scale": {"paddingInner": 0.2, "paddingOuter": 0.1}, "axis": {"title": null, "labelAngle": -90, "labelFont": "Liberation Serif", "labelFontSize": 8.5, "labelColor": "#222", "ticks": false, "domain": false, "labelPadding": 2}},
       "y": {"field": "v", "type": "quantitative", "stack": "zero", "scale": {"domain": [0, 100]}, "axis": null},
       "color": {"field": "level", "type": "nominal", "scale": {"domain": ["0","1","2","3","4","5"], "range": ["#ffffff","#0000cc","#00e000","#ffff00","#ff8000","#ff0000"]},
         "legend": {"title": null, "orient": "none", "legendX": 8, "legendY": 3, "direction": "horizontal", "symbolType": "square", "symbolSize": 45, "symbolStrokeColor": "#444", "symbolStrokeWidth": 1, "symbolOpacity": 1, "labelFont": "Liberation Serif", "labelFontSize": 12, "labelColor": "#000", "labelOffset": 2, "columnPadding": 1, "padding": 0}},
       "order": {"field": "level", "type": "ordinal", "sort": "descending"}
     }},
    {"mark": {"type": "rule", "color": "#444", "strokeWidth": 1},
     "encoding": {"y": {"datum": 0, "type": "quantitative"}}}
  ]
}
}
